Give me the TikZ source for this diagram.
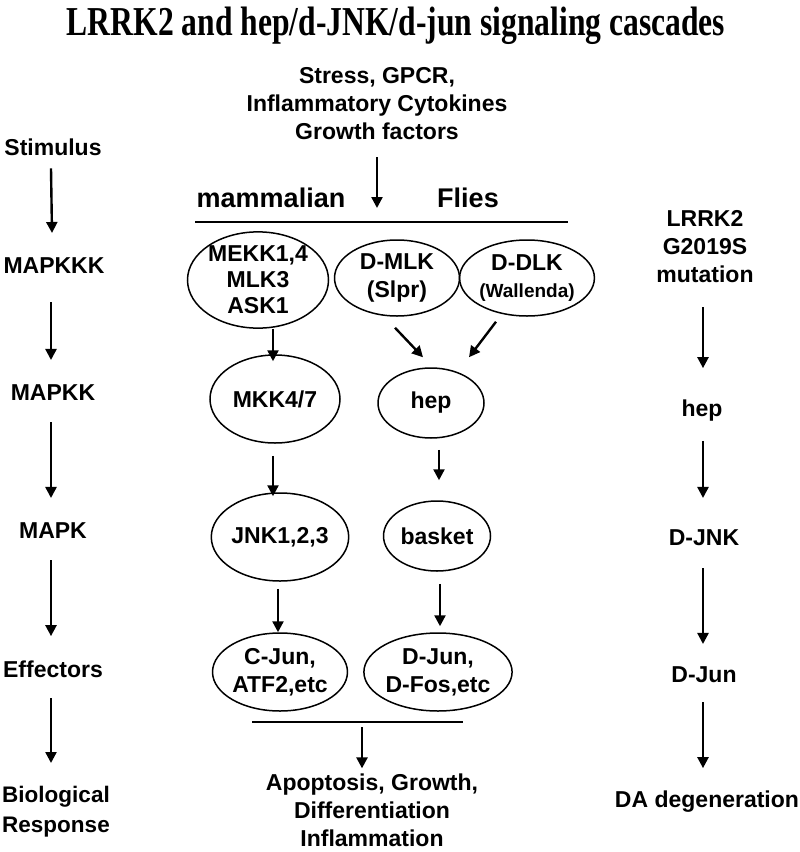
\documentclass[tikz,border=0pt]{standalone}
\usepackage{fontspec}
\setmainfont{Liberation Sans}
\newfontfamily\titlefont{Liberation Serif}
\usetikzlibrary{shapes.geometric,arrows.meta,calc}
\begin{document}
\begin{tikzpicture}[x=1pt,y=-1pt,
  txt/.style={font=\fontsize{23}{28.5}\selectfont\bfseries, inner sep=0pt, align=center},
  head/.style={font=\fontsize{27}{30}\selectfont\bfseries, inner sep=0pt},
  oval/.style={draw, ellipse, line width=1.5pt, inner sep=0pt, align=center,
               font=\fontsize{23}{28}\selectfont\bfseries},
  arr/.style={line width=2.4pt, -{Triangle[length=11pt,width=11pt]}},
  rule/.style={line width=1.5pt}]
\useasboundingbox (0,0) rectangle (800,852);
\fill[white] (0,0) rectangle (800,852);

% title
\node[anchor=base, inner sep=0pt] (title) at (396,35)
  {\scalebox{1}[1.3]{\fontsize{31.6}{36}\selectfont\titlefont\bfseries LRRK2 and hep/d-JNK/d-jun signaling cascades}};

% left column
\node[txt, anchor=base] (stim) at (53,155) {Stimulus};
\node[txt, anchor=base] (mkkk) at (54,273) {MAPKKK};
\node[txt, anchor=base] (mkkl) at (53,400) {MAPKK};
\node[txt, anchor=base] (mkl) at (53,538) {MAPK};
\node[txt, anchor=base] (eff) at (53,677) {Effectors};
\node[txt, anchor=north, font=\fontsize{22.5}{30}\selectfont\bfseries] (bio) at (56,786) {Biological\\Response};

\draw[arr] ([xshift=-2pt,yshift=-13pt]stim.south) -- ([xshift=-2pt,yshift=24pt]mkkk.north);
\draw[arr] ([xshift=-3pt,yshift=-29pt]mkkk.south) -- ([xshift=-2pt,yshift=24pt]mkkl.north);
\draw[arr] ([xshift=-2pt,yshift=-22pt]mkkl.south) -- ([xshift=-2pt,yshift=24pt]mkl.north);
\draw[arr] ([xshift=-2pt,yshift=-22pt]mkl.south) -- ([xshift=-2pt,yshift=24pt]eff.north);
\draw[arr] ([xshift=-2pt,yshift=-21pt]eff.south) -- ([xshift=-5pt,yshift=23pt]bio.north);

% middle column
\node[txt, font=\fontsize{23}{28}\selectfont\bfseries] (src) at (377,104)
  {Stress, GPCR,\\Inflammatory Cytokines\\Growth factors};
\node[head, anchor=base] (mam) at (271,207) {mammalian};
\node[head, anchor=base] (flies) at (468,207) {Flies};
\coordinate (l1a) at (195,222);
\coordinate (l1b) at (568,222);
\coordinate (srcend) at (377,208);
\draw[rule] (l1a) -- (l1b);
\draw[arr] ([yshift=-17pt]src.south) -- (srcend);

\node[oval, minimum width=141pt, minimum height=80pt, font=\fontsize{23}{26}\selectfont\bfseries] (mekk) at (258,280) {MEKK1,4\\MLK3\\ASK1};
\node[oval, minimum width=125pt, minimum height=76pt] (dmlk) at (397,278) {D-MLK\\(Slpr)};
\node[oval, minimum width=119pt, minimum height=76pt] (ddlk) at (527,278)
  {D-DLK\\[-1pt]{\fontsize{19}{22}\selectfont(Wallenda)}};
\node[oval, minimum width=130pt, minimum height=88pt] (mkk) at (275,399) {MKK4/7};
\node[oval, minimum width=106pt, minimum height=70pt] (hepm) at (431,403) {hep};
\node[oval, minimum width=131pt, minimum height=88pt] (jnk) at (280,537) {JNK1,2,3};
\node[oval, minimum width=107pt, minimum height=70pt] (basket) at (437,536) {basket};
\node[oval, minimum width=117pt, minimum height=78pt] (cjun) at (280,672) {C-Jun,\\ATF2,etc};
\node[oval, minimum width=129pt, minimum height=78pt] (djun) at (438,672) {D-Jun,\\D-Fos,etc};

\draw[arr] (mekk.south -| 273,0) -- ([xshift=-2pt,yshift=-7pt]mkk.north);
\draw[arr] ([xshift=-2pt,yshift=-12pt]mkk.south) -- ([xshift=-7pt,yshift=-4pt]jnk.north);
\draw[arr] ([xshift=-2pt,yshift=-7pt]jnk.south) -- ([xshift=-2pt]cjun.north);
\draw[arr] ([xshift=-2pt,yshift=-11pt]dmlk.south) -- ([xshift=-8pt,yshift=10pt]hepm.north);
\draw[arr] ([xshift=-31pt,yshift=-5pt]ddlk.south) -- ([xshift=38pt,yshift=10pt]hepm.north);
\draw[arr] ([xshift=8pt,yshift=-11pt]hepm.south) -- ([xshift=2pt,yshift=20pt]basket.north);
\draw[arr] ([xshift=3pt,yshift=-12pt]basket.south) -- ([xshift=2pt,yshift=6pt]djun.north);

\coordinate (l2a) at (252,722);
\coordinate (l2b) at (463,722);
\draw[rule] (l2a) -- (l2b);
\node[txt, font=\fontsize{23}{28}\selectfont\bfseries] (out) at (372,810) {Apoptosis, Growth,\\Differentiation\\Inflammation};
\coordinate (o1) at (362,727);
\draw[arr] (o1) -- ([yshift=5pt]out.north -| o1);

% right column
\node[txt, font=\fontsize{23}{28}\selectfont\bfseries] (lrrk) at (705,247) {LRRK2\\G2019S\\mutation};
\node[txt, anchor=base] (hepr) at (702,416) {hep};
\node[txt, anchor=base] (djnk) at (704,545) {D-JNK};
\node[txt, anchor=base] (djunr) at (704,682) {D-Jun};
\node[txt, anchor=base] (da) at (707,807) {DA degeneration};

\draw[arr] ([xshift=-2pt,yshift=-24pt]lrrk.south) -- ([xshift=1pt,yshift=31pt]hepr.north);
\draw[arr] ([xshift=1pt,yshift=-20pt]hepr.south) -- ([xshift=-1pt,yshift=31pt]djnk.north);
\draw[arr] ([xshift=-1pt,yshift=-23pt]djnk.south) -- ([xshift=-1pt,yshift=22pt]djunr.north);
\draw[arr] ([xshift=-1pt,yshift=-20pt]djunr.south) -- ([xshift=-4pt,yshift=22pt]da.north);
\end{tikzpicture}
\end{document}
